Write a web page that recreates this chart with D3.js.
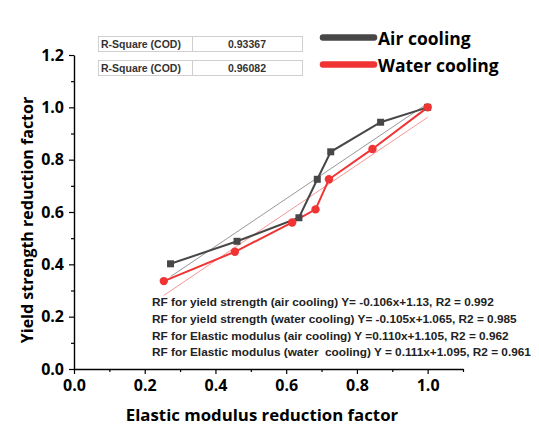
<!DOCTYPE html>
<html>
<head>
<meta charset="utf-8">
<script src="https://cdn.jsdelivr.net/npm/d3@7"></script>
<style>
  html, body { margin: 0; padding: 0; background: #fff; }
  svg { display: block; }
</style>
</head>
<body>
<svg id="chart" width="539" height="435"></svg>
<script>
// Reduction factors: elastic modulus (x) against yield strength (y)
const airX   = [0.273, 0.461, 0.636, 0.688, 0.726, 0.867, 1.000];
const airY   = [0.402, 0.488, 0.578, 0.725, 0.830, 0.943, 1.000];
const waterX = [0.254, 0.455, 0.617, 0.683, 0.721, 0.844, 1.000];
const waterY = [0.336, 0.448, 0.560, 0.610, 0.725, 0.841, 1.000];

const seriesNames = ["Air cooling", "Water cooling"];
const rSquareValues = ["0.93367", "0.96082"];
const equationLines = [
  "RF for yield strength (air cooling) Y= -0.106x+1.13, R2 = 0.992",
  "RF for yield strength (water cooling) Y= -0.105x+1.065, R2 = 0.985",
  "RF for Elastic modulus (air cooling) Y =0.110x+1.105, R2 = 0.962",
  "RF for Elastic modulus (water  cooling) Y = 0.111x+1.095, R2 = 0.961"
];
const xTicks = [0, 0.2, 0.4, 0.6, 0.8, 1.0];
const yTicks = [0, 0.2, 0.4, 0.6, 0.8, 1.0, 1.2];
const xMinor = [0.1, 0.3, 0.5, 0.7, 0.9, 1.1];
const yMinor = [0.1, 0.3, 0.5, 0.7, 0.9, 1.1];

const svg = d3.select("#chart");
const x = d3.scaleLinear().domain([0, 1.1]).range([74, 463]);
const y = d3.scaleLinear().domain([0, 1.2]).range([369, 55]);

const colAir = "#474747";
const colWater = "#f03434";
const axisFont = "'Open Sans', 'Noto Sans', sans-serif";
const textFont = "'Liberation Sans', Arial, sans-serif";

// Minor ticks
svg.append("g").attr("transform", `translate(0,${y(0)})`)
  .call(d3.axisBottom(x).tickValues(xMinor).tickSize(3).tickFormat(""))
  .call(g => g.select(".domain").remove())
  .call(g => g.selectAll("line").attr("stroke", "#000").attr("stroke-width", 1.2));
svg.append("g").attr("transform", `translate(${x(0)},0)`)
  .call(d3.axisLeft(y).tickValues(yMinor).tickSize(3).tickFormat(""))
  .call(g => g.select(".domain").remove())
  .call(g => g.selectAll("line").attr("stroke", "#000").attr("stroke-width", 1.2));

// Major axes
const xAxis = svg.append("g").attr("transform", `translate(0,${y(0)})`)
  .call(d3.axisBottom(x).tickValues(xTicks).tickSize(5).tickSizeOuter(0).tickPadding(6)
    .tickFormat(d3.format(".1f")));
const yAxis = svg.append("g").attr("transform", `translate(${x(0)},0)`)
  .call(d3.axisLeft(y).tickValues(yTicks).tickSize(5).tickSizeOuter(0).tickPadding(5)
    .tickFormat(d3.format(".1f")));
[xAxis, yAxis].forEach(g => {
  g.select(".domain").attr("stroke", "#000").attr("stroke-width", 1.4);
  g.selectAll(".tick line").attr("stroke", "#000").attr("stroke-width", 1.2);
  g.selectAll(".tick text").attr("fill", "#000")
    .style("font-family", axisFont).style("font-weight", 700).style("font-size", "16px");
});

// Axis titles
svg.append("text").attr("x", 262).attr("y", 421).attr("text-anchor", "middle")
  .style("font-family", axisFont).style("font-weight", 700).style("font-size", "16.8px")
  .attr("fill", "#000").text("Elastic modulus reduction factor");
svg.append("text").attr("transform", `translate(33,220) rotate(-90)`).attr("text-anchor", "middle")
  .style("font-family", axisFont).style("font-weight", 700).style("font-size", "16px")
  .attr("fill", "#000").text("Yield strength reduction factor");

// Least-squares linear fits for each series
function fit(xs, ys) {
  const mx = d3.mean(xs), my = d3.mean(ys);
  const sxy = d3.sum(xs, (v, i) => (v - mx) * (ys[i] - my));
  const sxx = d3.sum(xs, v => (v - mx) * (v - mx));
  const b = sxy / sxx, a = my - b * mx;
  const x0 = d3.min(xs), x1 = d3.max(xs);
  return [[x0, a + b * x0], [x1, a + b * x1]];
}
const line = d3.line().x(d => x(d[0])).y(d => y(d[1]));
svg.append("path").attr("d", line(fit(airX, airY)))
  .attr("fill", "none").attr("stroke", "#8c8c8c").attr("stroke-width", 0.9);
svg.append("path").attr("d", line(fit(waterX, waterY)))
  .attr("fill", "none").attr("stroke", "#f58a8a").attr("stroke-width", 0.9);

// Series lines and markers
const airPts = airX.map((v, i) => [v, airY[i]]);
const waterPts = waterX.map((v, i) => [v, waterY[i]]);
svg.append("path").attr("d", line(airPts)).attr("fill", "none")
  .attr("stroke", colAir).attr("stroke-width", 2);
svg.append("path").attr("d", line(waterPts)).attr("fill", "none")
  .attr("stroke", colWater).attr("stroke-width", 2);
svg.selectAll(".sq").data(airPts).join("rect").attr("class", "sq")
  .attr("x", d => x(d[0]) - 3.5).attr("y", d => y(d[1]) - 3.5)
  .attr("width", 7).attr("height", 7).attr("fill", colAir);
svg.selectAll(".dot").data(waterPts).join("circle").attr("class", "dot")
  .attr("cx", d => x(d[0])).attr("cy", d => y(d[1])).attr("r", 4.2).attr("fill", colWater);

// R-square boxes
rSquareValues.forEach((v, i) => {
  const top = 36 + i * 24;
  const g = svg.append("g");
  g.append("rect").attr("x", 98.5).attr("y", top + 0.5).attr("width", 204).attr("height", 15)
    .attr("fill", "#fff").attr("stroke", "#cfcfcf");
  g.append("line").attr("x1", 192.5).attr("x2", 192.5).attr("y1", top).attr("y2", top + 15.5)
    .attr("stroke", "#cfcfcf");
  g.append("text").attr("x", 101).attr("y", top + 11.8)
    .style("font-family", textFont).style("font-weight", 700).style("font-size", "10.5px")
    .attr("fill", "#333").text("R-Square (COD)");
  g.append("text").attr("x", 247).attr("y", top + 11.8).attr("text-anchor", "middle")
    .style("font-family", textFont).style("font-weight", 700).style("font-size", "10.5px")
    .attr("fill", "#333").text(v);
});

// Legend
[colAir, colWater].forEach((c, i) => {
  const cy = 37.5 + i * 27;
  svg.append("line").attr("x1", 323).attr("x2", 374).attr("y1", cy).attr("y2", cy)
    .attr("stroke", c).attr("stroke-width", 6.5).attr("stroke-linecap", "round");
  svg.append("text").attr("x", 378).attr("y", cy + 7)
    .style("font-family", axisFont).style("font-weight", 700).style("font-size", "17.5px")
    .attr("fill", "#000").text(seriesNames[i]);
});

// Regression equations
equationLines.forEach((t, i) => {
  svg.append("text").attr("x", 152).attr("y", 306 + i * 16.8)
    .attr("xml:space", "preserve").style("white-space", "pre")
    .style("font-family", textFont).style("font-weight", 700).style("font-size", "11.8px")
    .attr("fill", "#222").text(t);
});
</script>
</body>
</html>
